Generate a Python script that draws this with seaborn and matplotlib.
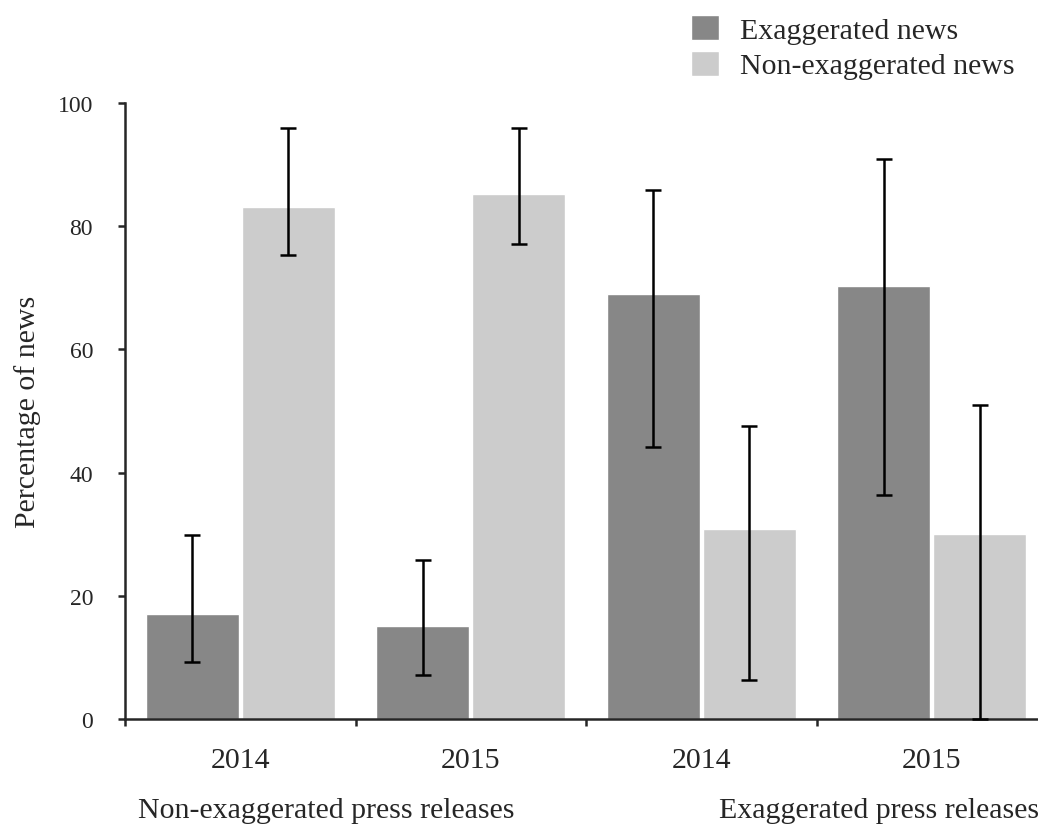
import numpy as np
import pandas as pd
import matplotlib
matplotlib.use("Agg")
import matplotlib.pyplot as plt
import matplotlib.transforms as mtransforms
import seaborn as sns

# Datos
years = ["2014", "2015", "2014", "2015"]
press_types = ["Non-exaggerated press releases", "Non-exaggerated press releases",
               "Exaggerated press releases", "Exaggerated press releases"]
series_names = ["Exaggerated news", "Non-exaggerated news"]

exag_pct = [17.0, 15.1, 69.0, 70.3]
exag_low = [9.2, 7.1, 44.2, 36.4]
exag_high = [29.9, 25.8, 85.8, 90.9]

nonexag_pct = [83.1, 85.2, 30.8, 30.0]
nonexag_low = [75.3, 77.1, 6.3, 0.0]
nonexag_high = [95.9, 95.9, 47.6, 51.0]

colores = {"Exaggerated news": "#878787", "Non-exaggerated news": "#cccccc"}

# Tabla larga para seaborn
grupos = [f"{p}|{y}" for p, y in zip(press_types, years)]
df = pd.DataFrame({
    "grupo": grupos * 2,
    "serie": [series_names[0]] * 4 + [series_names[1]] * 4,
    "pct": exag_pct + nonexag_pct,
    "low": exag_low + nonexag_low,
    "high": exag_high + nonexag_high,
})

sns.set_style("ticks")
plt.rcParams["font.family"] = ["Liberation Serif", "DejaVu Serif"]

fig = plt.figure(figsize=(10.38, 8.28), dpi=100)
ax = fig.add_axes([125 / 1038, 108 / 828, 922 / 1038, 616 / 828])

sns.barplot(data=df, x="grupo", y="pct", hue="serie", order=grupos,
            hue_order=series_names, palette=colores, width=0.835, gap=0.035,
            errorbar=None, saturation=1, ax=ax)

# Barras de error asimetricas en el centro de cada barra
for cont, serie in zip(ax.containers, series_names):
    sub = df[df["serie"] == serie]
    xs = [b.get_x() + b.get_width() / 2 for b in cont]
    yerr = [sub["pct"].values - sub["low"].values,
            sub["high"].values - sub["pct"].values]
    ax.errorbar(xs, sub["pct"].values, yerr=yerr, fmt="none", ecolor="black",
                elinewidth=1.8, capsize=5.6, capthick=1.8, zorder=5, clip_on=False)

ax.set_xlim(-0.5, 3.5)
ax.set_ylim(0, 100)
ax.set_yticks([0, 20, 40, 60, 80, 100])
ax.tick_params(axis="y", labelsize=17, length=5, width=1.8, pad=18)

ax.set_xticks(range(4))
ax.set_xticklabels(years, fontsize=21.5)
ax.tick_params(axis="x", which="major", length=0, pad=20)
ax.set_xticks([-0.5, 0.5, 1.5, 2.5, 3.5], minor=True)
ax.tick_params(axis="x", which="minor", length=5, width=1.8, direction="out")

for s in ["left", "bottom"]:
    ax.spines[s].set_linewidth(1.8)
sns.despine(ax=ax)

ax.set_xlabel("")
ax.set_ylabel("Percentage of news", fontsize=21.5)
ax.yaxis.set_label_coords(-0.091, 0.5)

# Etiquetas de tipo de comunicado
trans = mtransforms.blended_transform_factory(ax.transData, ax.transAxes)
ax.text(0.374, -0.148, press_types[0], transform=trans, ha="center", va="center",
        fontsize=21.5)
ax.text(2.77, -0.148, press_types[2], transform=trans, ha="center", va="center",
        fontsize=21.5)

# Leyenda arriba a la derecha
handles, labels = ax.get_legend_handles_labels()
ax.legend(handles, labels, loc="upper left", bbox_to_anchor=(691 / 1038, 1 - 16 / 828),
          bbox_transform=fig.transFigure, frameon=False, fontsize=21.5,
          handlelength=0.93, handleheight=0.93, handletextpad=0.7,
          labelspacing=0.22, borderpad=0, borderaxespad=0)

fig.savefig("out.png", dpi=100)
